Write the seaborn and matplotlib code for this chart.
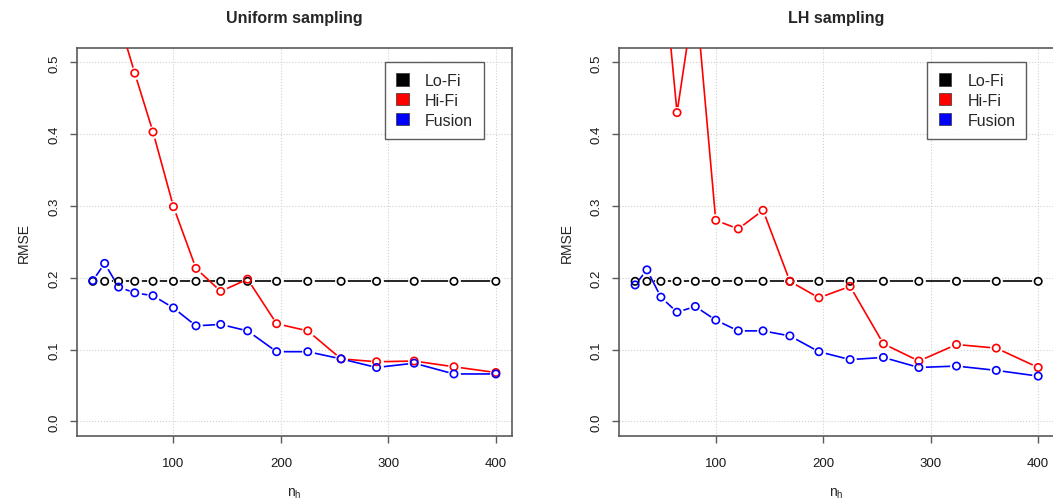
import numpy as np
import pandas as pd
import matplotlib
matplotlib.use("Agg")
import matplotlib.pyplot as plt
import seaborn as sns
from matplotlib.patches import Patch

# number of hi-fi samples (squares 5^2 .. 20^2)
N_H = [25, 36, 49, 64, 81, 100, 121, 144, 169, 196, 225, 256, 289, 324, 361, 400]

# uniform sampling
UNI_LOFI = [0.195] * 16
UNI_HIFI = [1.10, 0.75, 0.56, 0.485, 0.403, 0.299, 0.213, 0.181, 0.198, 0.136,
            0.126, 0.087, 0.083, 0.084, 0.076, 0.068]
UNI_FUSION = [0.196, 0.220, 0.187, 0.179, 0.175, 0.158, 0.133, 0.135, 0.126, 0.097,
              0.097, 0.087, 0.075, 0.081, 0.066, 0.066]

# latin hypercube sampling
LH_LOFI = [0.195] * 16
LH_HIFI = [1.20, 0.85, 0.667, 0.430, 0.600, 0.280, 0.268, 0.294, 0.195, 0.172,
           0.188, 0.108, 0.084, 0.107, 0.102, 0.075]
LH_FUSION = [0.190, 0.211, 0.173, 0.152, 0.160, 0.141, 0.126, 0.126, 0.119, 0.097,
             0.086, 0.089, 0.075, 0.077, 0.071, 0.063]

LABELS = ["Lo-Fi", "Hi-Fi", "Fusion"]
COLORS = {"Lo-Fi": "#000000", "Hi-Fi": "#ff0000", "Fusion": "#0000ff"}

sns.set_style("white")
plt.rcParams["font.family"] = ["Liberation Sans", "DejaVu Sans"]
plt.rcParams["mathtext.fontset"] = "custom"
plt.rcParams["mathtext.rm"] = "Liberation Sans"

W, H = 1053, 502
fig = plt.figure(figsize=(W / 100, H / 100), dpi=100)
ax_w, ax_h = 435.3 / W, 387.7 / H
ax_b = (H - 436.7) / H
ax1 = fig.add_axes([76.7 / W, ax_b, ax_w, ax_h])
ax2 = fig.add_axes([619 / W, ax_b, ax_w, ax_h])

frame_col = "#5a5a5a"


def draw_panel(ax, series, title, leg_anchor):
    for z, name in enumerate(LABELS):
        df = pd.DataFrame({"n_h": N_H, "rmse": series[name]})
        sns.lineplot(data=df, x="n_h", y="rmse", color=COLORS[name], lw=1.2,
                     ax=ax, zorder=3 + z * 2, legend=False)
        # white halo mimics the gap of R's type="b"
        ax.scatter(df["n_h"], df["rmse"], s=85, color="white", lw=0,
                   zorder=4 + z * 2)
    # hollow markers on top of everything
    for z, name in enumerate(LABELS):
        ax.scatter(N_H, series[name], s=28, facecolors="none",
                   edgecolors=COLORS[name], lw=1.2, zorder=12 + z)

    ax.set_xlim(10, 415)
    ax.set_ylim(-0.02, 0.52)
    ax.set_xticks([100, 200, 300, 400])
    ax.set_yticks([0.0, 0.1, 0.2, 0.3, 0.4, 0.5])
    ax.set_yticklabels(["0.0", "0.1", "0.2", "0.3", "0.4", "0.5"],
                       rotation=90, va="center")
    ax.grid(True, linestyle=":", color="#d0d0d0", lw=0.8, zorder=0)
    for sp in ax.spines.values():
        sp.set_color(frame_col)
        sp.set_linewidth(1.2)
    ax.tick_params(axis="both", length=5, width=1, color=frame_col,
                   labelsize=9.5, labelcolor="#1a1a1a", direction="out",
                   bottom=True, left=True)
    ax.tick_params(axis="x", pad=10)
    ax.tick_params(axis="y", pad=7)
    ax.set_xlabel(r"n$_\mathregular{h}$", fontsize=10, labelpad=12)
    ax.set_ylabel("RMSE", fontsize=10, labelpad=12)
    ax.set_title(title, fontsize=11.5, fontweight="bold", pad=19)

    handles = [Patch(facecolor=COLORS[n], edgecolor="#333333", lw=0.5, label=n)
               for n in LABELS]
    leg = ax.legend(handles=handles, loc="upper right", bbox_to_anchor=leg_anchor,
                    borderaxespad=0, fontsize=11.5, frameon=True, fancybox=False,
                    handlelength=0.8, handleheight=0.8, handletextpad=1.0,
                    labelspacing=0.3, borderpad=0.7)
    leg.get_frame().set_edgecolor("#333333")
    leg.get_frame().set_linewidth(1.0)
    leg.set_zorder(20)


draw_panel(ax1, {"Lo-Fi": UNI_LOFI, "Hi-Fi": UNI_HIFI, "Fusion": UNI_FUSION},
           "Uniform sampling", (0.936, 0.964))
draw_panel(ax2, {"Lo-Fi": LH_LOFI, "Hi-Fi": LH_HIFI, "Fusion": LH_FUSION},
           "LH sampling", (0.936, 0.964))

fig.savefig("out.png", dpi=100)
